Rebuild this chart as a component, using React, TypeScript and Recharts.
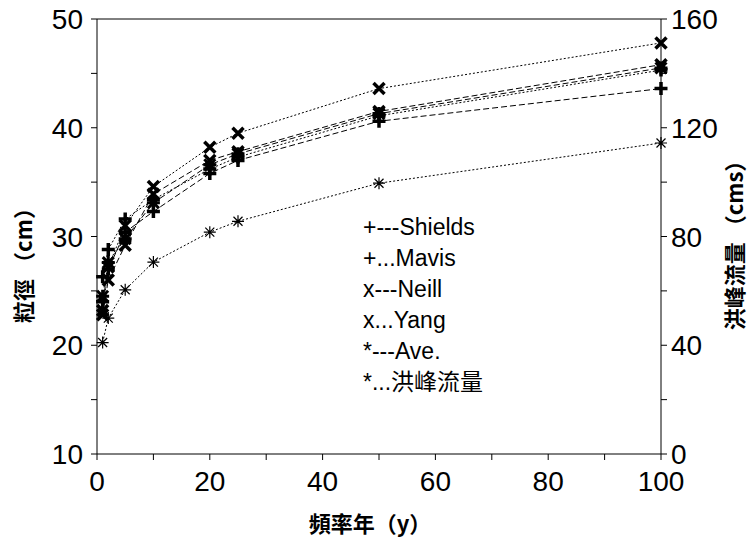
import React from 'react';
import { LineChart, Line, XAxis, YAxis, ReferenceLine } from 'recharts';

// return period (years)
const years = [1, 2, 5, 10, 20, 25, 50, 100];

// grain size (cm), left axis
const shields = [24.0, 27.0, 30.4, 32.3, 35.8, 37.0, 40.6, 43.6];
const mavis = [26.3, 28.8, 31.6, 33.4, 36.2, 37.3, 41.1, 45.3];
const neill = [22.8, 26.0, 29.2, 33.9, 37.0, 37.8, 41.5, 45.8];
const yang = [23.2, 27.2, 31.0, 34.6, 38.2, 39.5, 43.6, 47.8];
const ave = [24.5, 27.6, 29.8, 33.1, 36.6, 37.6, 41.3, 45.5];

// peak discharge (cms), right axis
const peakFlow = [41, 50, 60.4, 70.6, 81.6, 85.6, 99.6, 114.4];

const xTicks = [0, 10, 20, 30, 40, 50, 60, 70, 80, 90, 100];
const leftTicks = [10, 15, 20, 25, 30, 35, 40, 45, 50];
const rightTicks = [0, 20, 40, 60, 80, 100, 120, 140, 160];

const legendLines = ['+---Shields', '+...Mavis', 'x---Neill', 'x...Yang', '*---Ave.', '*...洪峰流量'];

const data = years.map((y, i) => ({
  year: y,
  shields: shields[i],
  mavis: mavis[i],
  neill: neill[i],
  yang: yang[i],
  ave: ave[i],
  peak: peakFlow[i],
}));

const NUM_FONT = '"Liberation Sans", Arial, sans-serif';
const CJK_FONT = '"Noto Sans CJK TC", "Noto Sans CJK SC", sans-serif';

const mark = (kind: 'plus' | 'x' | 'star' | 'thinStar') => (p: any) => {
  const { cx, cy, index } = p;
  if (cx == null || cy == null) return <g key={index} />;
  let r = 6.5;
  let d = 5.5;
  let path = '';
  let sw = 3.5;
  if (kind === 'plus') path = `M${cx - r},${cy}H${cx + r}M${cx},${cy - r}V${cy + r}`;
  if (kind === 'x') path = `M${cx - d},${cy - d}L${cx + d},${cy + d}M${cx - d},${cy + d}L${cx + d},${cy - d}`;
  if (kind === 'star' || kind === 'thinStar') {
    if (kind === 'thinStar') {
      r = 6;
      d = 4.5;
    }
    path =
      `M${cx - r},${cy}H${cx + r}M${cx},${cy - r}V${cy + r}` +
      `M${cx - d},${cy - d}L${cx + d},${cy + d}M${cx - d},${cy + d}L${cx + d},${cy - d}`;
    sw = kind === 'star' ? 3 : 1.2;
  }
  return <path key={index} d={path} stroke="#000" strokeWidth={sw} fill="none" />;
};

const XTick = (p: any) => {
  const v = p.payload.value;
  if (v % 20 !== 0) return <g />;
  return (
    <text x={p.x} y={p.y + 29} textAnchor="middle" fontSize={28} fontFamily={NUM_FONT} fill="#000">
      {v}
    </text>
  );
};

const LeftTick = (p: any) => {
  const v = p.payload.value;
  if (v % 10 !== 0) return <g />;
  return (
    <text x={p.x - 6} y={p.y + 10} textAnchor="end" fontSize={28} fontFamily={NUM_FONT} fill="#000">
      {v}
    </text>
  );
};

const RightTick = (p: any) => {
  const v = p.payload.value;
  if (v % 40 !== 0) return <g />;
  return (
    <text x={p.x + 2} y={p.y + 10} textAnchor="start" fontSize={28} fontFamily={NUM_FONT} fill="#000">
      {v}
    </text>
  );
};

const axisTitle = (text: string, x: number, y: number, angle: number) => () =>
  (
    <text
      x={x}
      y={y}
      transform={angle ? `rotate(${angle} ${x} ${y})` : undefined}
      textAnchor="middle"
      dominantBaseline="central"
      fontSize={22}
      fontWeight="bold"
      fontFamily={CJK_FONT}
      fill="#000"
    >
      {text}
    </text>
  );

export default function App() {
  return (
    <div style={{ position: 'absolute', left: 0, top: 0, width: 752, height: 544, background: '#fff' }}>
      <LineChart width={752} height={544} data={data} margin={{ top: 19, right: 0, bottom: 0, left: 0 }}>
        <XAxis
          dataKey="year"
          type="number"
          domain={[0, 100]}
          ticks={xTicks}
          height={90}
          tickSize={6}
          stroke="#000"
          tick={XTick}
          interval={0}
          label={axisTitle('頻率年（y）', 370, 522, 0)}
        />
        <YAxis
          yAxisId="left"
          domain={[10, 50]}
          ticks={leftTicks}
          width={97}
          tickSize={6}
          stroke="#000"
          tick={LeftTick}
          interval={0}
          label={axisTitle('粒徑 （cm）', 22, 260, -90)}
        />
        <YAxis
          yAxisId="right"
          orientation="right"
          domain={[0, 160]}
          ticks={rightTicks}
          width={91}
          tickSize={6}
          stroke="#000"
          tick={RightTick}
          interval={0}
          label={axisTitle('洪峰流量 （cms）', 733, 240, -90)}
        />
        <ReferenceLine yAxisId="left" y={50} stroke="#000" />
        <Line yAxisId="left" dataKey="shields" stroke="#000" strokeWidth={1} strokeDasharray="6 3" dot={mark('plus')} isAnimationActive={false} />
        <Line yAxisId="left" dataKey="mavis" stroke="#000" strokeWidth={1} strokeDasharray="2 2" dot={mark('plus')} isAnimationActive={false} />
        <Line yAxisId="left" dataKey="neill" stroke="#000" strokeWidth={1} strokeDasharray="6 3" dot={mark('x')} isAnimationActive={false} />
        <Line yAxisId="left" dataKey="yang" stroke="#000" strokeWidth={1} strokeDasharray="2 2" dot={mark('x')} isAnimationActive={false} />
        <Line yAxisId="left" dataKey="ave" stroke="#000" strokeWidth={1} strokeDasharray="6 3" dot={mark('star')} isAnimationActive={false} />
        <Line yAxisId="right" dataKey="peak" stroke="#000" strokeWidth={1} strokeDasharray="2 2" dot={mark('thinStar')} isAnimationActive={false} />
      </LineChart>
      <div
        style={{
          position: 'absolute',
          left: 363,
          top: 212,
          fontFamily: `"Liberation Sans", Arial, ${CJK_FONT}`,
          fontSize: 23,
          lineHeight: '31px',
          color: '#000',
        }}
      >
        {legendLines.map((t) => (
          <div key={t}>{t}</div>
        ))}
      </div>
    </div>
  );
}
